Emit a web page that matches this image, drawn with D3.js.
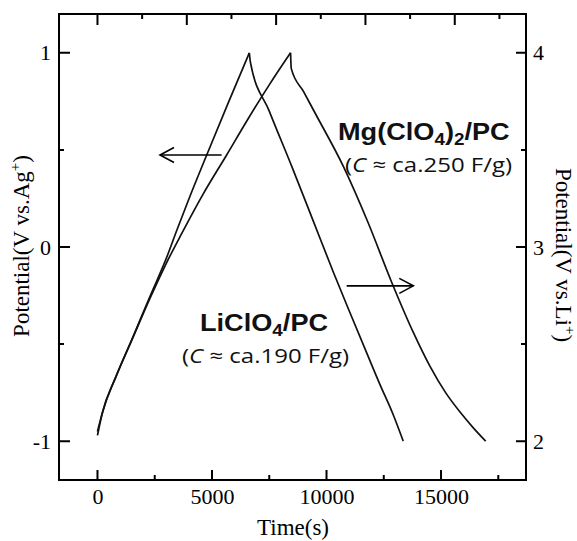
<!DOCTYPE html>
<html>
<head>
<meta charset="utf-8">
<script src="https://cdn.jsdelivr.net/npm/d3@7"></script>
<style>
  body { margin: 0; background: #fff; }
</style>
</head>
<body>
<svg id="chart" width="577" height="541"></svg>
<script>
// Charge/discharge curves (time in s, potential in V vs Ag+)
const liChargeTime = [0, 250, 850, 1560, 2290, 3000, 3460, 4000, 4770, 5700, 6630];
const liChargeV = [-0.95, -0.84, -0.655, -0.46, -0.255, -0.06, 0.085, 0.25, 0.474, 0.74, 1.0];
const liDischargeTime = [6630, 6680, 7500, 8500, 9500, 10300, 11030, 11700, 12340, 12900, 13350];
const liDischargeV = [1.0, 0.95, 0.70, 0.41, 0.11, -0.13, -0.34, -0.53, -0.71, -0.86, -1.0];

const mgChargeTime = [0, 200, 800, 1500, 2290, 3000, 3680, 4600, 5640, 6500, 7500, 8430];
const mgChargeV = [-0.97, -0.86, -0.67, -0.48, -0.265, -0.085, 0.07, 0.27, 0.474, 0.645, 0.835, 1.0];
const mgDischargeTime = [8430, 8460, 9000, 9500, 10740, 11800, 12840, 13790, 14520, 15200, 15830, 16400, 16950];
const mgDischargeV = [1.0, 0.92, 0.80, 0.69, 0.414, 0.13, -0.18, -0.44, -0.615, -0.75, -0.85, -0.93, -1.0];

// Tick values
const bottomMajor = [0, 5000, 10000, 15000];
const bottomMinor = [2500, 7500, 12500, 17500];
const topMajor = [0, 3900, 7800, 11700, 15600];
const topMinor = [1950, 5850, 9750, 13650, 17550];
const leftMajor = [-1, 0, 1];
const leftMinor = [-0.5, 0.5];
const rightMajor = [2, 3, 4];
const rightMinor = [2.5, 3.5];

// Arrows: [fromTime, toTime, potential on left axis]
const leftArrow = [5420, 2730, 0.474];
const rightArrow = [10880, 13790, -0.2];

const svg = d3.select('#chart');
const plotLeft = 59, plotRight = 526, plotTop = 14, plotBottom = 480;

const x = d3.scaleLinear().domain([-1680, 18710]).range([plotLeft, plotRight]);
const y = d3.scaleLinear().domain([-1.2, 1.2]).range([plotBottom, plotTop]);
const y2 = d3.scaleLinear().domain([1.8, 4.2]).range([plotBottom, plotTop]);

const serif = '"Liberation Serif", "Times New Roman", serif';

// Tick labels from d3 axes (marks drawn separately below)
function styleAxis(g) {
    g.select('.domain').remove();
    g.selectAll('.tick line').remove();
    g.selectAll('.tick text')
        .attr('font-family', serif)
        .attr('font-size', 22)
        .attr('fill', '#000')
        .text(function() { return this.textContent.replace('\u2212', '-'); });
}

svg.append('g').attr('transform', `translate(0,${plotBottom})`)
    .call(d3.axisBottom(x).tickValues(bottomMajor).tickSize(0).tickPadding(8).tickFormat(d3.format('d')))
    .call(styleAxis);
svg.append('g').attr('transform', `translate(${plotLeft},0)`)
    .call(d3.axisLeft(y).tickValues(leftMajor).tickSize(0).tickPadding(8).tickFormat(d3.format('d')))
    .call(styleAxis);
svg.append('g').attr('transform', `translate(${plotRight},0)`)
    .call(d3.axisRight(y2).tickValues(rightMajor).tickSize(0).tickPadding(7).tickFormat(d3.format('d')))
    .call(styleAxis);

// Frame
svg.append('rect')
    .attr('x', plotLeft).attr('y', plotTop)
    .attr('width', plotRight - plotLeft).attr('height', plotBottom - plotTop)
    .attr('fill', 'none').attr('stroke', '#000').attr('stroke-width', 2);

// Curves
const curve = d3.line().x(d => x(d[0])).y(d => y(d[1])).curve(d3.curveMonotoneX);
const series = [
    d3.zip(liChargeTime, liChargeV),
    d3.zip(liDischargeTime, liDischargeV),
    d3.zip(mgChargeTime, mgChargeV),
    d3.zip(mgDischargeTime, mgDischargeV)
];
svg.append('g').selectAll('path').data(series).join('path')
    .attr('d', curve)
    .attr('fill', 'none')
    .attr('stroke', '#111')
    .attr('stroke-width', 1.7)
    .attr('stroke-linejoin', 'round');

// Arrows
function arrow(a) {
    const x0 = x(a[0]), x1 = x(a[1]), yy = y(a[2]);
    const dir = x1 > x0 ? -1 : 1;
    const g = svg.append('g').attr('fill', 'none').attr('stroke', '#000').attr('stroke-width', 1.6);
    g.append('line').attr('x1', x0).attr('y1', yy).attr('x2', x1).attr('y2', yy);
    g.append('path').attr('d', `M${x1 + dir * 14},${yy - 7.5}L${x1},${yy}L${x1 + dir * 14},${yy + 7.5}`);
}
arrow(leftArrow);
arrow(rightArrow);

// Axis titles
svg.append('text')
    .attr('x', (plotLeft + plotRight) / 2 + 0.5).attr('y', 535)
    .attr('text-anchor', 'middle')
    .attr('font-family', serif).attr('font-size', 23)
    .text('Time(s)');

const yl = svg.append('text')
    .attr('transform', 'translate(29,246) rotate(-90)')
    .attr('text-anchor', 'middle')
    .attr('font-family', serif).attr('font-size', 23);
yl.append('tspan').text('Potential(V vs.Ag');
yl.append('tspan').attr('dy', -9).attr('font-size', 15).text('+');
yl.append('tspan').attr('dy', 9).text(')');

const yr = svg.append('text')
    .attr('transform', 'translate(556,255) rotate(90)')
    .attr('text-anchor', 'middle')
    .attr('font-family', serif).attr('font-size', 23);
yr.append('tspan').text('Potential(V vs.Li');
yr.append('tspan').attr('dy', -9).attr('font-size', 15).text('+');
yr.append('tspan').attr('dy', 9).text(')');

// Electrolyte labels
const sans = '"Liberation Sans", Arial, sans-serif';
const capFont = '"Open Sans", "Liberation Sans", sans-serif';

function label(px, py, parts) {
    const t = svg.append('text')
        .attr('transform', `translate(${px},${py}) scale(1.18,1)`)
        .attr('font-family', sans).attr('font-weight', 'bold').attr('font-size', 23)
        .attr('fill', '#111');
    let shift = 0;
    parts.forEach(p => {
        const sub = p[1];
        const dy = (sub ? 5 : 0) - shift;
        shift = sub ? 5 : 0;
        t.append('tspan').attr('dy', dy).attr('font-size', sub ? 16 : 23).text(p[0]);
    });
}
function capLabel(px, py, value) {
    const t = svg.append('text')
        .attr('transform', `translate(${px},${py}) scale(1.2,1)`)
        .attr('font-family', capFont).attr('font-size', 20)
        .attr('fill', '#111');
    t.append('tspan').text('(');
    t.append('tspan').attr('font-style', 'italic').text('C');
    t.append('tspan').text(` \u2248 ca.${value} F/g)`);
}

label(338, 140, [['Mg(ClO', false], ['4', true], [')', false], ['2', true], ['/PC', false]]);
capLabel(345, 172, 250);
label(200, 331, [['LiClO', false], ['4', true], ['/PC', false]]);
capLabel(182, 363, 190);

// Inward tick marks, one path per side, drawn last
function xTickPath(values, y0, len) {
    return values.map(d => `M${x(d)},${y0}v${len}`).join('');
}
function yTickPath(values, scale, x0, len) {
    return values.map(d => `M${x0},${scale(d)}h${len}`).join('');
}
const tickPaths = [
    xTickPath(bottomMajor, plotBottom, -10),
    xTickPath(bottomMinor, plotBottom, -5),
    xTickPath(topMajor, plotTop, 11),
    xTickPath(topMinor, plotTop, 5),
    yTickPath(leftMajor, y, plotLeft, 11),
    yTickPath(leftMinor, y, plotLeft, 5),
    yTickPath(rightMajor, y2, plotRight, -10),
    yTickPath(rightMinor, y2, plotRight, -5)
];
svg.append('g').selectAll('path').data(tickPaths).join('path')
    .attr('d', d => d)
    .attr('fill', 'none')
    .attr('stroke', '#000')
    .attr('stroke-width', 2);
</script>
</body>
</html>
